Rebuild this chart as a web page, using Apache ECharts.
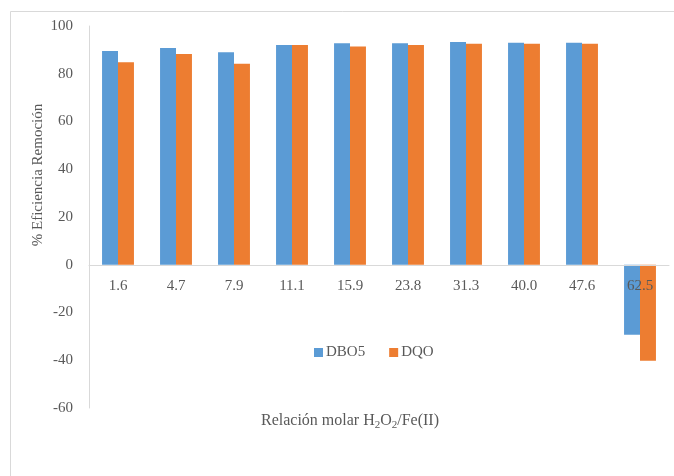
<!DOCTYPE html>
<html>
<head>
<meta charset="utf-8">
<script src="https://cdn.jsdelivr.net/npm/echarts@6/dist/echarts.min.js"></script>
<style>html,body{margin:0;padding:0;background:#fff;}#c{width:674px;height:476px;}</style>
</head>
<body>
<div id="c"></div>
<script>
var categories = ['1.6','4.7','7.9','11.1','15.9','23.8','31.3','40.0','47.6','62.5'];
var dbo5 = [89.5, 90.8, 89.0, 92.0, 92.8, 92.8, 93.3, 93.0, 93.0, -29.3];
var dqo = [84.8, 88.3, 84.2, 92.0, 91.4, 92.0, 92.6, 92.6, 92.6, -40.2];
var seriesNames = ['DBO5', 'DQO'];

var FONT = '"Liberation Serif", "Times New Roman", serif';
var chart = echarts.init(document.getElementById('c'), null, {renderer: 'canvas'});
chart.setOption({
  backgroundColor: '#fff',
  animation: false,
  grid: {left: 89, right: 5, top: 26, bottom: 68, containLabel: false},
  legend: {
    data: seriesNames,
    left: 309, top: 340,
    itemWidth: 9, itemHeight: 9, itemGap: 24,
    icon: 'rect',
    textStyle: {fontFamily: FONT, fontSize: 15, color: '#595959', padding: [0,0,0,-2]}
  },
  xAxis: {
    type: 'category',
    data: categories,
    offset: -143,
    z: 5,
    axisLine: {onZero: false, lineStyle: {color: '#D9D9D9', width: 1}},
    axisTick: {show: false},
    axisLabel: {fontFamily: FONT, fontSize: 15, color: '#595959', margin: 14}
  },
  yAxis: {
    type: 'value',
    min: -60, max: 100, interval: 20,
    axisLine: {show: true, lineStyle: {color: '#D9D9D9'}},
    axisTick: {show: false},
    splitLine: {show: false},
    axisLabel: {fontFamily: FONT, fontSize: 15, color: '#595959', margin: 16}
  },
  series: [
    {name: seriesNames[0], type: 'bar', data: dbo5, barGap: '0%', barCategoryGap: '45%', itemStyle: {color: '#5B9BD5'}},
    {name: seriesNames[1], type: 'bar', data: dqo, barGap: '0%', barCategoryGap: '45%', itemStyle: {color: '#ED7D31'}}
  ],
  graphic: [
    {type: 'rect', left: 8, top: 9, shape: {width: 720, height: 520}, style: {fill: 'none', stroke: '#D9D9D9', lineWidth: 1}, silent: true, z: -1},
    {type: 'text', x: 38, y: 175, rotation: Math.PI/2,
      style: {text: '% Eficiencia Remoción', fontFamily: FONT, fontSize: 15, fill: '#595959', textAlign: 'center', textVerticalAlign: 'middle'}},
    {type: 'text', x: 350, y: 421,
      style: {text: 'Relación molar H{s|2}O{s|2}/Fe(II)', fontFamily: FONT, fontSize: 16, fill: '#595959', textAlign: 'center', textVerticalAlign: 'middle',
        rich: {s: {fontFamily: FONT, fontSize: 11, fill: '#595959', padding: [8,0,0,0]}}}}
  ]
});
</script>
</body>
</html>
